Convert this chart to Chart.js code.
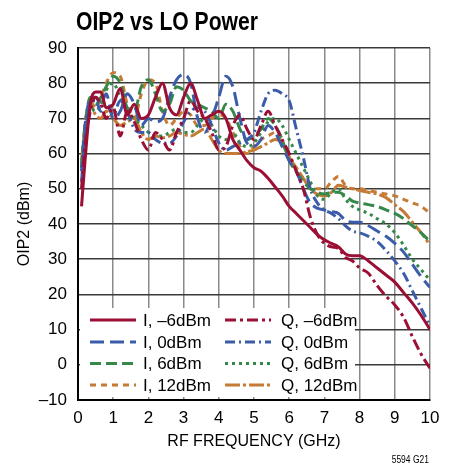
<!DOCTYPE html>
<html>
<head>
<meta charset="utf-8">
<script src="https://cdn.jsdelivr.net/npm/chart.js@4/dist/chart.umd.min.js"></script>
<style>
  html, body { margin: 0; padding: 0; background: #fff; }
  #wrap { position: relative; width: 451px; height: 469px; }
</style>
</head>
<body>
<div id="wrap"><canvas id="c" width="451" height="469"></canvas></div>
<script>
// ---- data ----
const freqGHz = [0.1,0.2,0.35,0.5,0.65,0.8,1.0,1.2,1.4,1.6,1.8,2.0,2.2,2.4,2.6,2.8,3.0,3.2,3.4,3.6,3.8,4.0,4.2,4.4,4.6,4.8,5.0,5.2,5.4,5.6,5.8,6.0,6.2,6.4,6.6,6.8,7.0,7.2,7.4,7.6,7.8,8.0,8.25,8.5,8.75,9.0,9.25,9.5,9.75,10.0];

const I_m6 = [45,58,74,77.5,77.5,73,74,78.5,71,74,70,71,76,80,73,71,76,80,75,70,71,72,70,64,61,58,56,55,53,50.5,48,45,43,41,39,37,35.5,34.5,33.5,31.5,31,31,29.5,27.5,25.5,23.5,20.5,17.5,14,10];
const Q_m6 = [50,62,72,76,74,70,73,65,72,69,64,61,66,64,61,66,70,75,72,70,66,61,62,68,71,67,64,68,72,68,64,60,55,50,42,37,34.5,33.5,33,30.5,29.5,27.5,26,22.5,19.5,17,13.5,8,3,-1];
const I_0  = [52,65,74,76,74,77,70,72,77,74,68,70,69,70,76,81,82.5,80,70,66,70,76,82,79,70,63,62,64,68,66,62,58,55,50,46,44.5,44,43.5,43,41,40.5,40.5,39.5,38,36.5,34.5,32,28.5,25,22];
const Q_0  = [55,68,75,75,72,74,71,75,72,67,66,66,64,63,63,65,69,72,73,72,68,63,61,62,63,64,66,72,77,78,77,75,67,59,50,46,44,43,41.5,39.5,38,37.5,36.5,35,32.5,29.5,26,21,16,11];
const I_6  = [56,68,76,74,76,79,82,80,73,72,79,81,77,72,74,79,78,75,74,73,72,70,74,72,67,64,65,67,70,68,64,58,55,52,50,49,48.5,49,49,48,46.5,46,45.5,45,44,43,41.5,39.5,37.5,35];
const Q_6  = [56,66,73,72,74,78,80,76,72,70,68,66,65,65,66,67,66,66,68,70,68,65,64,66,63,62,63,66,69,70,68,64,60,56,52,48,47,49,50,47,45,44,43,41.5,40,37.5,34,30,27,24];
const I_12 = [57,68,75,73,76,80,83,82,74,70,77,81,80,72,68,70,72,71,68,68,70,71,70,66,62,60,62,64,65,66,63,59,56,53,51,50,50,52,53.5,51,50,50,49.5,49,48.5,48,47,46,45,43];
const Q_12 = [58,68,74,71,70,72,70,68,69,70,66,64,65,64.5,65,66,65.5,65,66,67,64,61,60,60,60,60.5,61,62,63,64,63,59,56,53,50,48.5,48,49,51,50.5,50,49.5,49,48.5,47.5,45.5,43.5,40.5,37.5,34];

const seriesNames = ['I, \u20136dBm','Q, \u20136dBm','I, 0dBm','Q, 0dBm','I, 6dBm','Q, 6dBm','I, 12dBm','Q, 12dBm'];
const xTicks = [0,1,2,3,4,5,6,7,8,9,10];
const yTicks = [-10,0,10,20,30,40,50,60,70,80,90];

// ---- styles ----
const RED = '#9b0f35', BLUE = '#3b5ca8', GREEN = '#35884a', ORANGE = '#c57b35';
const styles = [
  {c: RED,    d: []},
  {c: RED,    d: [11,4,3,4]},
  {c: BLUE,   d: [14,6]},
  {c: BLUE,   d: [10,4,2,4]},
  {c: GREEN,  d: [11,5]},
  {c: GREEN,  d: [3,4]},
  {c: ORANGE, d: [6,5]},
  {c: ORANGE, d: [15,3,3,3]}
];
const allSeries = [I_m6, Q_m6, I_0, Q_0, I_6, Q_6, I_12, Q_12];

const datasets = allSeries.map((vals, i) => ({
  label: seriesNames[i],
  data: vals.map((v, k) => ({x: freqGHz[k], y: v})),
  borderColor: styles[i].c,
  borderDash: styles[i].d,
  borderWidth: 3,
  pointRadius: 0,
  fill: false,
  cubicInterpolationMode: 'monotone',
  tension: 0.4
}));

const FONT = '"Liberation Sans", Arial, sans-serif';

const overlay = {
  id: 'overlay',
  afterDatasetsDraw(chart) {
    const ctx = chart.ctx;
    const ca = chart.chartArea;
    const bx = ca.left + 2, by = 308, bw = 275, bh = ca.bottom - 3 - by;
    ctx.save();
    ctx.fillStyle = '#fff';
    ctx.fillRect(bx, by, bw, bh);
    const rows = [320, 342, 363.5, 385];
    const cols = [{lx: 90, tx: 143}, {lx: 225, tx: 281}];
    ctx.font = '17px ' + FONT;
    ctx.textBaseline = 'middle';
    ctx.textAlign = 'left';
    chart.data.datasets.forEach((ds, i) => {
      const col = cols[i % 2], y = rows[Math.floor(i / 2)];
      ctx.strokeStyle = ds.borderColor;
      ctx.lineWidth = 3;
      ctx.setLineDash(ds.borderDash);
      ctx.beginPath();
      ctx.moveTo(col.lx, y);
      ctx.lineTo(col.lx + 46, y);
      ctx.stroke();
      ctx.setLineDash([]);
      ctx.fillStyle = '#000';
      ctx.fillText(ds.label, col.tx, y + 1);
    });
    ctx.restore();
  },
  afterDraw(chart) {
    const ctx = chart.ctx;
    ctx.save();
    ctx.fillStyle = '#000';
    ctx.textBaseline = 'alphabetic';
    ctx.textAlign = 'left';
    // condensed bold title
    ctx.font = 'bold 26px ' + FONT;
    const title = 'OIP2 vs LO Power';
    const w = ctx.measureText(title).width;
    const sx = 182 / w;
    ctx.translate(76, 30);
    ctx.scale(sx, 1);
    ctx.fillText(title, 0, 0);
    ctx.restore();
    ctx.save();
    ctx.fillStyle = '#000';
    ctx.font = '10px ' + FONT;
    ctx.textAlign = 'right';
    ctx.textBaseline = 'alphabetic';
    ctx.translate(429, 463);
    ctx.scale(0.85, 1);
    ctx.fillText('5594 G21', 0, 0);
    ctx.restore();
  }
};

new Chart(document.getElementById('c'), {
  type: 'line',
  data: { datasets },
  options: {
    responsive: false,
    animation: false,
    devicePixelRatio: 1,
    layout: { padding: { left: 0, right: 21, top: 48, bottom: 0 } },
    plugins: { legend: { display: false }, title: { display: false }, tooltip: { enabled: false } },
    scales: {
      x: {
        type: 'linear', min: 0, max: 10,
        afterBuildTicks: s => { s.ticks = xTicks.map(v => ({value: v})); },
        afterFit: s => { s.height = 69; },
        ticks: { color: '#000', font: { family: FONT, size: 17 }, padding: 8, maxRotation: 0 },
        grid: { color: '#8a8a8a', lineWidth: 1.5, drawTicks: false },
        border: { color: '#000', width: 2 },
        title: { display: true, text: 'RF FREQUENCY (GHz)', color: '#000', font: { family: FONT, size: 16 }, padding: { bottom: 18 } }
      },
      y: {
        type: 'linear', min: -10, max: 90,
        afterBuildTicks: s => { s.ticks = yTicks.map(v => ({value: v})); },
        afterFit: s => { s.width = 78; },
        ticks: { color: '#000', font: { family: FONT, size: 17 }, padding: 11,
                 callback: v => String(v).replace('-', '\u2013') },
        grid: { color: '#3a3a3a', lineWidth: 1.5, drawTicks: false },
        border: { color: '#000', width: 2 },
        title: { display: true, text: 'OIP2 (dBm)', color: '#000', font: { family: FONT, size: 16 }, padding: { top: 15 } }
      }
    }
  },
  plugins: [overlay]
});
</script>
</body>
</html>
